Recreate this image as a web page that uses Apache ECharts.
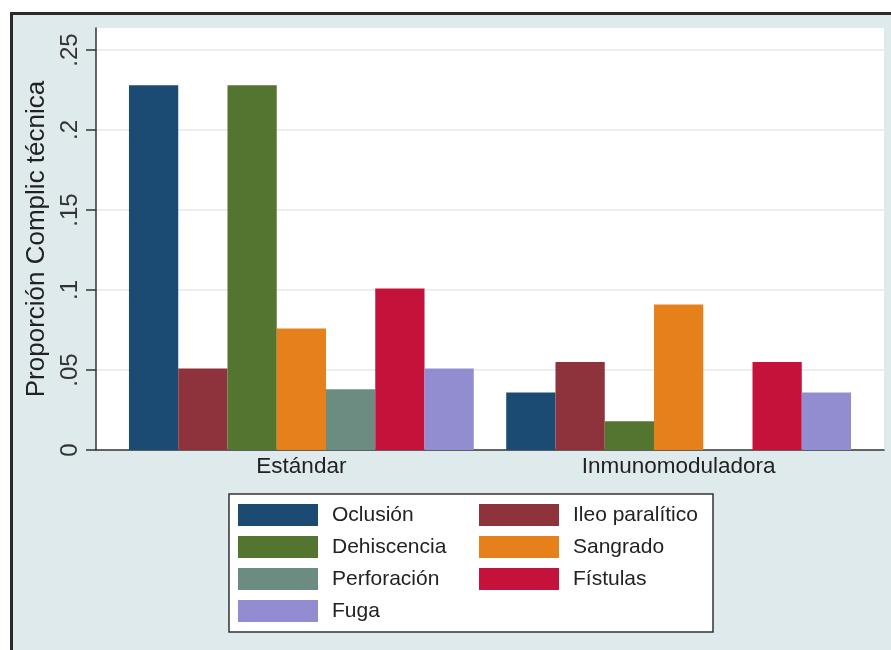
<!DOCTYPE html>
<html><head><meta charset="utf-8">
<script src="https://cdn.jsdelivr.net/npm/echarts@6/dist/echarts.min.js"></script>
<style>
html,body{margin:0;padding:0;background:#fff;overflow:hidden;width:891px;height:650px;}
#frame{position:absolute;left:10px;top:12px;width:900px;height:700px;background:#deeaec;border-left:3px solid #2a2a2a;border-top:3px solid #2a2a2a;}
#chart{position:absolute;left:0;top:0;width:891px;height:650px;}
</style></head><body>
<div id="frame"></div><div id="chart"></div>
<script>
// Data
const categories = ['Estándar', 'Inmunomoduladora'];
const seriesNames = ['Oclusión', 'Ileo paralítico', 'Dehiscencia', 'Sangrado', 'Perforación', 'Fístulas', 'Fuga'];
const oclusion     = [0.228, 0.036];
const ileo         = [0.051, 0.055];
const dehiscencia  = [0.228, 0.018];
const sangrado     = [0.076, 0.091];
const perforacion  = [0.038, 0];
const fistulas     = [0.101, 0.055];
const fuga         = [0.051, 0.036];
const yTickLabels  = ['0', '.05', '.1', '.15', '.2', '.25'];
const yTitle = 'Proporción Complic técnica';

const seriesData = [oclusion, ileo, dehiscencia, sangrado, perforacion, fistulas, fuga];
const colors = ['#1b4a72', '#8e323c', '#537530', '#e6801a', '#6c8c82', '#c5123a', '#928dd0'];
const FONT = '"Liberation Sans", Arial, sans-serif';

const chart = echarts.init(document.getElementById('chart'), null, {renderer: 'canvas'});
const option = {
  backgroundColor: 'transparent',
  animation: false,
  textStyle: {fontFamily: FONT},
  grid: [
    {left: 96, right: 7, top: 28, bottom: 200, show: true, backgroundColor: '#ffffff', borderWidth: 0},
    {left: 96, right: 7, top: 50, bottom: 200},
    {left: 112.75, width: 754.5, top: 50, bottom: 200}
  ],
  xAxis: [
    {gridIndex: 0, type: 'value', min: 0, max: 1, show: false},
    {gridIndex: 1, type: 'value', min: 0, max: 1,
      axisLine: {show: true, lineStyle: {color: '#333', width: 1.5}},
      axisTick: {show: false}, axisLabel: {show: false}, splitLine: {show: false}},
    {gridIndex: 2, type: 'category', data: categories,
      axisLine: {show: false}, axisTick: {show: false},
      axisLabel: {fontSize: 22.5, color: '#222', margin: 5, fontFamily: FONT}}
  ],
  yAxis: [
    {gridIndex: 0, type: 'value', min: 0, max: 1,
      axisLine: {show: true, lineStyle: {color: '#333', width: 1.5}},
      axisTick: {show: false}, axisLabel: {show: false}, splitLine: {show: false},
      name: yTitle, nameLocation: 'middle', nameRotate: 90, nameGap: 46,
      nameTextStyle: {fontSize: 26, color: '#222', fontFamily: FONT}},
    {gridIndex: 1, type: 'value', min: 0, max: 0.25, interval: 0.05,
      axisLine: {show: false},
      axisTick: {show: true, length: 10, lineStyle: {color: '#333', width: 1.5}},
      axisLabel: {rotate: 90, margin: 14, fontSize: 24, color: '#333', fontFamily: FONT,
        formatter: v => yTickLabels[Math.round(v / 0.05)]},
      splitLine: {show: true, showMinLine: false, lineStyle: {color: '#e4e9ea', width: 1.5}}},
    {gridIndex: 2, type: 'value', min: 0, max: 0.25, show: false}
  ],
  legend: [
    {data: [seriesNames[0], seriesNames[2], seriesNames[4], seriesNames[6]],
      orient: 'vertical', left: 238, top: 504, padding: 0, itemWidth: 80, itemHeight: 22, itemGap: 10,
      icon: 'rect', selectedMode: false,
      textStyle: {fontSize: 21, color: '#222', padding: [0, 0, 0, 9], lineHeight: 22, fontFamily: FONT}},
    {data: [seriesNames[1], seriesNames[3], seriesNames[5]],
      orient: 'vertical', left: 479, top: 504, padding: 0, itemWidth: 80, itemHeight: 22, itemGap: 10,
      icon: 'rect', selectedMode: false,
      textStyle: {fontSize: 21, color: '#222', padding: [0, 0, 0, 9], lineHeight: 22, fontFamily: FONT}}
  ],
  graphic: [
    {type: 'rect', z: 0, shape: {x: 229, y: 494, width: 484, height: 138},
      style: {fill: '#ffffff', stroke: '#333', lineWidth: 1.5}}
  ],
  series: seriesNames.map((n, i) => ({
    type: 'bar', name: n, xAxisIndex: 2, yAxisIndex: 2,
    data: seriesData[i],
    itemStyle: {color: colors[i]},
    barGap: '0%', barCategoryGap: '8.6%'
  }))
};
chart.setOption(option);
</script>
</body></html>
